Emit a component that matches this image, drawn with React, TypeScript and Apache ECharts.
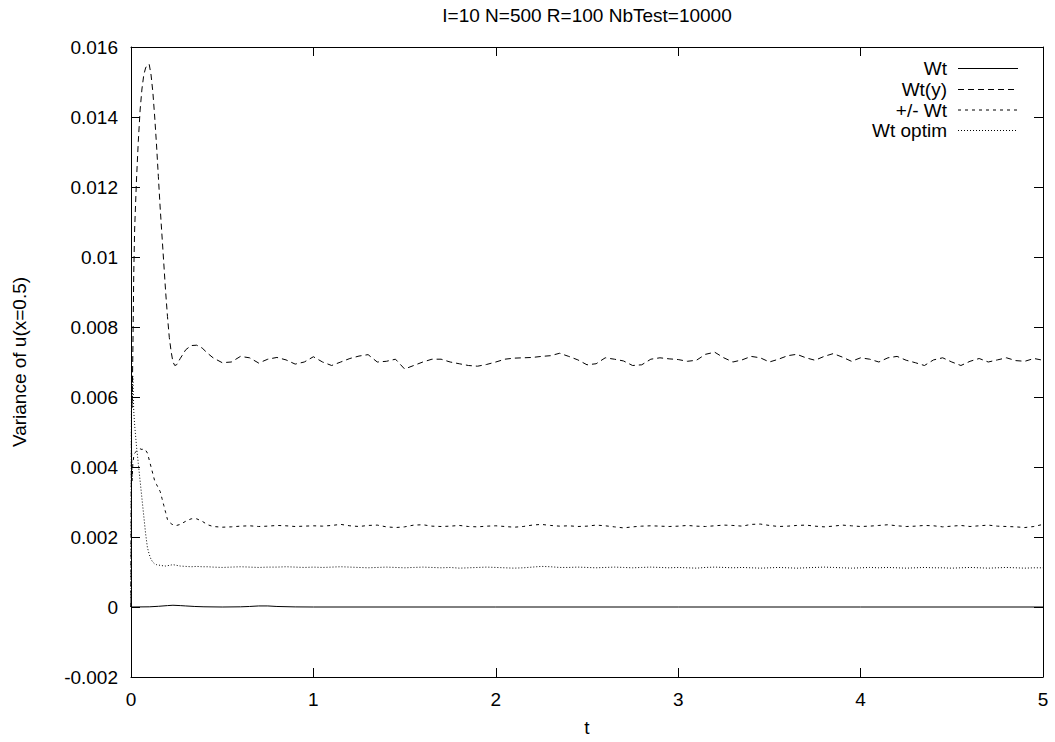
import React, { useEffect, useRef } from "react";
import * as echarts from "echarts";

const FONT = "'Liberation Sans', Arial, Helvetica, sans-serif";

const titleText = "I=10 N=500 R=100 NbTest=10000";
const xName = "t";
const yName = "Variance of u(x=0.5)";
const seriesNames = ["Wt", "Wt(y)", "+/- Wt", "Wt optim"];

// sampling times (early transient part + regular part)
const tEarly = [0, 0.003, 0.006, 0.01, 0.015, 0.02, 0.03, 0.04, 0.05, 0.06, 0.07, 0.08, 0.09, 0.1, 0.11, 0.12, 0.13, 0.14, 0.15, 0.16, 0.17, 0.18, 0.19, 0.2, 0.21, 0.22, 0.23, 0.24, 0.25, 0.27, 0.3, 0.33, 0.36, 0.39, 0.42];
const tLate = [
  0.45, 0.5, 0.55, 0.6, 0.65, 0.7, 0.75, 0.8, 0.85, 0.9,
  0.95, 1.0, 1.05, 1.1, 1.15, 1.2, 1.25, 1.3, 1.35, 1.4,
  1.45, 1.5, 1.55, 1.6, 1.65, 1.7, 1.75, 1.8, 1.85, 1.9,
  1.95, 2.0, 2.05, 2.1, 2.15, 2.2, 2.25, 2.3, 2.35, 2.4,
  2.45, 2.5, 2.55, 2.6, 2.65, 2.7, 2.75, 2.8, 2.85, 2.9,
  2.95, 3.0, 3.05, 3.1, 3.15, 3.2, 3.25, 3.3, 3.35, 3.4,
  3.45, 3.5, 3.55, 3.6, 3.65, 3.7, 3.75, 3.8, 3.85, 3.9,
  3.95, 4.0, 4.05, 4.1, 4.15, 4.2, 4.25, 4.3, 4.35, 4.4,
  4.45, 4.5, 4.55, 4.6, 4.65, 4.7, 4.75, 4.8, 4.85, 4.9,
  4.95, 5.0,
];

// Wt (solid) has its own sparse grid
const tWt = [0, 0.1, 0.15, 0.2, 0.23, 0.27, 0.3, 0.35, 0.4, 0.5, 0.6, 0.65, 0.7, 0.75, 0.8, 0.9, 1.0, 2.0, 3.0, 4.0, 5.0];
const wt = [0, 0.000005, 0.00002, 0.00004, 0.00005, 0.00004, 0.00003, 0.000015, 0.000006, 0, 0.000005, 0.000015, 0.00003, 0.00003, 0.000015, 0.000003, 0, 0, 0, 0, 0];

const wtyEarly = [0, 0.0062, 0.0057, 0.0072, 0.0095, 0.0108, 0.0122, 0.0133, 0.0142, 0.0148, 0.0152, 0.0154, 0.0155, 0.0155, 0.0152, 0.0147, 0.014, 0.0132, 0.0123, 0.0114, 0.0106, 0.0098, 0.009, 0.0083, 0.0077, 0.0073, 0.007, 0.0069, 0.00692, 0.0071, 0.00735, 0.00747, 0.00748, 0.0074, 0.00725];
const wtyLate = [
  0.00712, 0.00698, 0.007, 0.00716, 0.00712, 0.00697, 0.00708, 0.00713, 0.00706, 0.00694,
  0.007, 0.00715, 0.007, 0.0069, 0.007, 0.0071, 0.00717, 0.00721, 0.007, 0.00702,
  0.00708, 0.0068, 0.0069, 0.007, 0.00708, 0.00708, 0.007, 0.00695, 0.0069, 0.00688,
  0.00693, 0.007, 0.00708, 0.00711, 0.00712, 0.00713, 0.00716, 0.00718, 0.00725, 0.00716,
  0.00706, 0.00692, 0.00695, 0.00712, 0.00708, 0.00703, 0.0069, 0.00692, 0.00708, 0.00712,
  0.00709, 0.00707, 0.00702, 0.00705, 0.00722, 0.00728, 0.00712, 0.007, 0.00706, 0.00716,
  0.00712, 0.007, 0.00708, 0.00718, 0.00722, 0.00712, 0.00705, 0.00716, 0.00724, 0.00714,
  0.00702, 0.00712, 0.00708, 0.007, 0.00712, 0.00716, 0.00705, 0.00698, 0.0069, 0.00706,
  0.00712, 0.007, 0.0069, 0.00702, 0.0071, 0.007, 0.00706, 0.00712, 0.00704, 0.00702,
  0.0071, 0.00705,
];

const pmEarly = [0, 0.0045, 0.0036, 0.0041, 0.0043, 0.0044, 0.00445, 0.0045, 0.00452, 0.0045, 0.00452, 0.00448, 0.0044, 0.0042, 0.004, 0.0038, 0.0036, 0.0035, 0.0034, 0.0033, 0.0031, 0.0029, 0.0027, 0.0025, 0.00243, 0.00238, 0.00235, 0.00233, 0.00233, 0.00236, 0.00245, 0.00252, 0.00252, 0.00245, 0.00235];
const pmLate = [
  0.0023, 0.00228, 0.00229, 0.00231, 0.00232, 0.0023, 0.00231, 0.00233, 0.00232, 0.0023,
  0.00231, 0.00232, 0.00231, 0.00233, 0.00236, 0.00232, 0.0023, 0.00233, 0.00234, 0.00229,
  0.00227, 0.00229, 0.00234, 0.00235, 0.00231, 0.0023, 0.00231, 0.00233, 0.0023, 0.00229,
  0.00231, 0.00232, 0.0023, 0.00228, 0.0023, 0.00234, 0.00236, 0.00233, 0.00231, 0.00232,
  0.0023, 0.00231, 0.00234, 0.00232, 0.00229, 0.00226, 0.00229, 0.00231, 0.00232, 0.00231,
  0.0023, 0.00231, 0.00233, 0.00231, 0.0023, 0.00232, 0.00234, 0.00233, 0.00231, 0.00236,
  0.00237, 0.00233, 0.0023, 0.00231, 0.00233, 0.00234, 0.00231, 0.00229, 0.00231, 0.00234,
  0.00232, 0.0023, 0.00231, 0.00233, 0.00235, 0.00232, 0.0023, 0.00231, 0.00233, 0.00232,
  0.00229, 0.00231, 0.00233, 0.0023, 0.00232, 0.00234, 0.00231, 0.0023, 0.00229, 0.00227,
  0.0023, 0.00236,
];

const optEarly = [0, 0.0073, 0.0058, 0.0066, 0.0056, 0.0052, 0.0046, 0.0041, 0.0036, 0.0031, 0.0026, 0.0021, 0.0017, 0.0015, 0.00136, 0.00128, 0.00123, 0.00121, 0.0012, 0.00119, 0.00118, 0.00118, 0.00117, 0.00118, 0.00119, 0.0012, 0.00121, 0.0012, 0.00119, 0.00117, 0.00116, 0.00115, 0.00116, 0.00115, 0.00115];
const optLate = [
  0.00114, 0.00113, 0.00114, 0.00115, 0.00114, 0.00113, 0.00114, 0.00114, 0.00115, 0.00114,
  0.00113, 0.00114, 0.00113, 0.00114, 0.00115, 0.00114, 0.00113, 0.00112, 0.00113, 0.00114,
  0.00113, 0.00112, 0.00113, 0.00114, 0.00113, 0.00112, 0.00113, 0.00111, 0.00112, 0.00113,
  0.00114, 0.00113, 0.00112, 0.00111, 0.00112, 0.00114, 0.00116, 0.00115, 0.00113, 0.00113,
  0.00114, 0.00113, 0.00112, 0.00113, 0.00114, 0.00113, 0.00112, 0.00113, 0.00114, 0.00113,
  0.00112, 0.00113, 0.00112, 0.00111, 0.00113, 0.00114, 0.00113, 0.00112, 0.00113, 0.00112,
  0.00111, 0.00112, 0.00113, 0.00112, 0.00111, 0.00112, 0.00113, 0.00114, 0.00113, 0.00112,
  0.00111, 0.00112, 0.00113, 0.00112, 0.00113, 0.00112, 0.00111, 0.00112, 0.00113, 0.00112,
  0.00112, 0.00111, 0.00112, 0.00113, 0.00112, 0.00111, 0.00112, 0.00113, 0.00112, 0.00111,
  0.00112, 0.00112,
];

const yMin = -0.002;
const yMax = 0.016;
const yStep = 0.002;
const xMin = 0;
const xMax = 5;
const xStep = 1;

const dashes: (number[] | "solid")[] = ["solid", [6, 4], [3, 4], [1, 2]];

function pairs(ts: number[], vs: number[]) {
  return ts.map((t, i) => [t, vs[i]]);
}

export default function App() {
  const ref = useRef<HTMLDivElement>(null);
  useEffect(() => {
    if (!ref.current) return;
    const chart = echarts.init(ref.current, null, { renderer: "svg" });
    const tAll = [...tEarly, ...tLate];
    const datas = [
      pairs(tWt, wt),
      pairs(tAll, [...wtyEarly, ...wtyLate]),
      pairs(tAll, [...pmEarly, ...pmLate]),
      pairs(tAll, [...optEarly, ...optLate]),
    ];
    const fs = 19;
    const axisCommon = {
      type: "value" as const,
      axisLine: { show: true, onZero: false, lineStyle: { color: "#000", width: 1 } },
      axisTick: { show: true, inside: true, length: 9, lineStyle: { color: "#000", width: 1 } },
      splitLine: { show: false },
    };
    const legendX = 947;
    const legendY = [68.5, 89.5, 110, 130.5];
    const legendGraphics: any[] = [];
    seriesNames.forEach((name, i) => {
      legendGraphics.push({
        type: "text",
        x: legendX,
        y: legendY[i],
        style: {
          text: name,
          fill: "#000",
          font: `${fs}px ${FONT}`,
          textAlign: "right",
          textVerticalAlign: "middle",
        },
      });
      legendGraphics.push({
        type: "line",
        shape: { x1: 958, y1: legendY[i], x2: 1018, y2: legendY[i] },
        style: {
          stroke: "#000",
          lineWidth: 1,
          lineDash: dashes[i] === "solid" ? null : (dashes[i] as number[]),
        },
      });
    });
    const option = {
      animation: false,
      textStyle: { fontFamily: FONT },
      grid: { left: 131, right: 12, top: 47, bottom: 64, containLabel: false },
      xAxis: [
        {
          ...axisCommon,
          position: "bottom",
          min: xMin,
          max: xMax,
          interval: xStep,
          name: xName,
          nameLocation: "middle",
          nameGap: 41,
          nameTextStyle: { fontSize: fs, color: "#000", fontFamily: FONT },
          axisLabel: { fontSize: fs, color: "#000", margin: 13, fontFamily: FONT },
        },
        {
          ...axisCommon,
          position: "top",
          min: xMin,
          max: xMax,
          interval: xStep,
          axisLabel: { show: false },
        },
      ],
      yAxis: [
        {
          ...axisCommon,
          position: "left",
          min: yMin,
          max: yMax,
          interval: yStep,
          axisLabel: {
            fontSize: fs,
            color: "#000",
            margin: 13,
            fontFamily: FONT,
            formatter: (v: number) => String(parseFloat(v.toFixed(4))),
          },
        },
        {
          ...axisCommon,
          position: "right",
          min: yMin,
          max: yMax,
          interval: yStep,
          axisLabel: { show: false },
        },
      ],
      graphic: [
        {
          type: "text",
          x: 587,
          y: 15,
          style: {
            text: titleText,
            fill: "#000",
            font: `${fs}px ${FONT}`,
            textAlign: "center",
            textVerticalAlign: "middle",
          },
        },
        {
          type: "text",
          x: 19,
          y: 362,
          rotation: Math.PI / 2,
          style: {
            text: yName,
            fill: "#000",
            font: `${fs}px ${FONT}`,
            textAlign: "center",
            textVerticalAlign: "middle",
          },
        },
        ...legendGraphics,
      ],
      series: seriesNames.map((name, i) => ({
        name,
        type: "line",
        xAxisIndex: 0,
        yAxisIndex: 0,
        data: datas[i],
        showSymbol: false,
        symbol: "none",
        clip: true,
        lineStyle: { color: "#000", width: 1, type: dashes[i] },
      })),
    };
    chart.setOption(option as any);
    return () => chart.dispose();
  }, []);
  return (
    <div
      ref={ref}
      style={{ position: "absolute", left: 0, top: 0, width: 1055, height: 742, background: "#fff" }}
    />
  );
}
